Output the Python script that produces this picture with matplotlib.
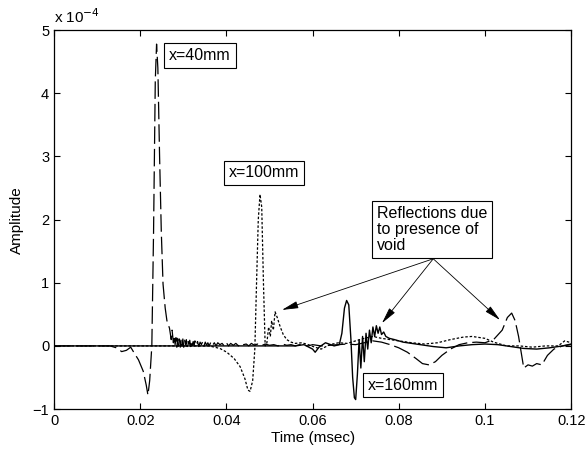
import numpy as np
import matplotlib
matplotlib.use('Agg')
import matplotlib.pyplot as plt

plt.rcParams['font.family'] = ['Liberation Sans', 'DejaVu Sans']

# amplitudes are in units of 1e-4, time in msec
# x=40mm sensor (long dashes)
t40 = [0.0, 0.013, 0.0145, 0.0157, 0.0168, 0.0178, 0.0185, 0.0196, 0.0207, 0.0214, 0.0218,
       0.0222, 0.0227, 0.0231, 0.0235, 0.0238, 0.0241, 0.0245, 0.0249, 0.0253, 0.0258,
       0.0262, 0.0268, 0.0272, 0.0274, 0.0277, 0.0279, 0.0281, 0.0283, 0.0285, 0.0287,
       0.0289, 0.0291, 0.0293, 0.0295, 0.0297, 0.0299, 0.0301, 0.0303, 0.0305, 0.0307,
       0.0309, 0.0311, 0.0313, 0.0315, 0.0317, 0.0319, 0.0321, 0.0323, 0.0325, 0.0327,
       0.0330, 0.0333, 0.0336, 0.0339, 0.0342, 0.0345, 0.0348, 0.0351, 0.0354, 0.0357,
       0.0360, 0.0364, 0.0368, 0.0372, 0.0376, 0.0380, 0.0385, 0.0390, 0.0395, 0.0400,
       0.0405, 0.0410, 0.0416, 0.0422, 0.0428, 0.0434, 0.0440, 0.0446, 0.0452, 0.0458,
       0.0465, 0.0472, 0.0480, 0.0490, 0.0500, 0.0510, 0.0520, 0.0530, 0.0540, 0.0550,
       0.0560, 0.0570, 0.0580, 0.0590, 0.0600, 0.0620, 0.0640, 0.0660, 0.0680, 0.0700,
       0.0720, 0.0740, 0.0760, 0.0780, 0.0800, 0.0820, 0.0840, 0.0855, 0.0870, 0.0885,
       0.0900, 0.0920, 0.0940, 0.0960, 0.0980, 0.1000, 0.1020, 0.1040, 0.1052, 0.1062,
       0.1070, 0.1078, 0.1084, 0.1090, 0.1100, 0.1110, 0.1120, 0.1132, 0.1145, 0.1160,
       0.1180, 0.1200]
a40 = [0.0, 0.0, -0.03, -0.09, -0.07, -0.02, -0.10, -0.22, -0.40, -0.62, -0.78,
       -0.55, 0.0, 1.8, 4.2, 4.78, 4.4, 3.0, 1.8, 0.98, 0.6,
       0.40, 0.28, 0.10, 0.25, 0.05, 0.16, 0.02, 0.13, -0.02, 0.12,
       0.0, 0.11, -0.02, 0.10, 0.01, 0.11, -0.02, 0.09, 0.02, 0.10,
       -0.01, 0.08, 0.02, 0.09, -0.01, 0.08, 0.01, 0.07, 0.0, 0.08,
       0.01, 0.07, -0.01, 0.06, 0.02, 0.07, 0.0, 0.06, 0.01, 0.05,
       0.0, 0.06, 0.01, 0.05, 0.0, 0.05, 0.02, 0.04, 0.0, 0.05,
       0.0, 0.04, 0.01, 0.04, 0.0, 0.04, 0.02, 0.03, 0.0, 0.04,
       0.01, 0.03, 0.0, 0.03, 0.01, 0.02, 0.0, 0.03, 0.01, 0.02,
       0.0, 0.02, 0.01, 0.0, 0.02, 0.0, 0.01, 0.02, 0.03, 0.02,
       0.05, 0.08, 0.06, 0.02, -0.03, -0.10, -0.20, -0.28, -0.30, -0.25,
       -0.15, -0.05, 0.02, 0.05, 0.06, 0.05, 0.10, 0.25, 0.45, 0.52,
       0.40, 0.15, -0.10, -0.35, -0.30, -0.32, -0.28, -0.30, -0.15, -0.05,
       0.0, 0.02]

# x=100mm sensor (dotted)
t100 = [0.0, 0.036, 0.0385, 0.0401, 0.0418, 0.0432, 0.0443, 0.0450, 0.0455, 0.0461,
        0.0466, 0.0470, 0.0474, 0.0478, 0.0482, 0.0486, 0.0490, 0.0494, 0.0498, 0.0502,
        0.0505, 0.0509, 0.0513, 0.0518, 0.0525, 0.0532, 0.0540, 0.0550, 0.0560, 0.0575,
        0.0590, 0.0605, 0.0620, 0.0640, 0.0660, 0.0680, 0.0700, 0.0720, 0.0740, 0.0760,
        0.0780, 0.0800, 0.0830, 0.0860, 0.0890, 0.0920, 0.0950, 0.0970, 0.1000, 0.1020,
        0.1050, 0.1080, 0.1110, 0.1140, 0.1170, 0.1185, 0.1200]
a100 = [0.0, 0.0, -0.04, -0.10, -0.20, -0.33, -0.52, -0.70, -0.72, -0.55,
        -0.05, 1.0, 2.0, 2.4, 2.2, 1.0, 0.0, 0.05, 0.30, 0.15,
        0.40, 0.25, 0.54, 0.45, 0.30, 0.18, 0.10, 0.06, 0.04, 0.05,
        0.02, -0.02, -0.05, 0.02, 0.05, 0.04, 0.08, 0.12, 0.15, 0.12,
        0.10, 0.08, 0.05, 0.03, 0.05, 0.10, 0.14, 0.15, 0.12, 0.06,
        0.0, 0.0, -0.02, 0.0, 0.0, 0.08, 0.05]

# x=160mm sensor (solid)
t160 = [0.0, 0.0560, 0.0580, 0.0600, 0.0606, 0.0615, 0.0630, 0.0650, 0.0662, 0.0668,
        0.0674, 0.0679, 0.0684, 0.0689, 0.0693, 0.0697, 0.0700, 0.0704, 0.0708, 0.0712,
        0.0716, 0.0720, 0.0724, 0.0728, 0.0732, 0.0736, 0.0740, 0.0744, 0.0748, 0.0752,
        0.0756, 0.0760, 0.0765, 0.0770, 0.0778, 0.0790, 0.0810, 0.0830, 0.0850, 0.0880,
        0.0910, 0.0940, 0.0970, 0.1000, 0.1030, 0.1060, 0.1090, 0.1120, 0.1150, 0.1180,
        0.1200]
a160 = [0.0, 0.0, 0.02, -0.05, -0.10, -0.02, 0.05, 0.0, 0.02, 0.20,
        0.60, 0.72, 0.65, 0.10, -0.50, -0.82, -0.85, -0.45, 0.10, -0.35,
        0.15, -0.25, 0.20, -0.05, 0.25, 0.05, 0.30, 0.15, 0.32, 0.20,
        0.30, 0.18, 0.22, 0.15, 0.12, 0.10, 0.06, 0.04, 0.02, -0.01,
        -0.03, 0.0, 0.02, 0.03, 0.02, -0.01, -0.04, -0.05, -0.03, 0.0,
        0.03]

x_ticks = [0, 0.02, 0.04, 0.06, 0.08, 0.1, 0.12]
x_ticklabels = ['0', '0.02', '0.04', '0.06', '0.08', '0.1', '0.12']
y_ticks = [-1, 0, 1, 2, 3, 4, 5]

fig = plt.figure(figsize=(5.87, 4.51), dpi=100)
ax = fig.add_axes([0.092, 0.093, 0.881, 0.840])

ax.plot(t160, a160, '-', color='k', lw=1.0)
ax.plot(t100, a100, color='k', lw=0.9, dashes=(2, 1.5))
ax.plot(t40, a40, color='k', lw=0.9, dashes=(14, 4))

ax.set_xlim(0, 0.12)
ax.set_ylim(-1, 5)
ax.set_xticks(x_ticks)
ax.set_xticklabels(x_ticklabels)
ax.set_yticks(y_ticks)
for s in ax.spines.values():
    s.set_linewidth(0.9)
ax.tick_params(direction='in', top=True, right=True, labelsize=10.5, length=4)
ax.set_xlabel('Time (msec)', fontsize=11, labelpad=2)
ax.set_ylabel('Amplitude', fontsize=11, labelpad=6)
ax.text(0.0, 1.012, r'x 10$^{-4}$', transform=ax.transAxes, fontsize=11,
        ha='left', va='bottom')

box = dict(boxstyle='square,pad=0.3', fc='white', ec='k', lw=0.8)
ax.text(0.0339, 4.6, 'x=40mm', fontsize=11.5, ha='center', va='center', bbox=box)
ax.text(0.0487, 2.74, 'x=100mm', fontsize=11.5, ha='center', va='center', bbox=box)
ax.text(0.081, -0.62, 'x=160mm', fontsize=11.5, ha='center', va='center', bbox=box)
ax.text(0.0877, 1.84, 'Reflections due\nto presence of\nvoid', fontsize=11.5,
        ha='center', va='center', multialignment='left', linespacing=1.1, bbox=box)

arrow_targets = [(0.0529, 0.57), (0.0761, 0.36), (0.1035, 0.41)]
for tx, ty in arrow_targets:
    ax.annotate('', xy=(tx, ty), xytext=(0.0880, 1.38),
                arrowprops=dict(arrowstyle='-|>,head_length=1.0,head_width=0.22',
                                color='k', lw=0.6, shrinkA=0, shrinkB=0))

fig.savefig('out.png', dpi=100)
